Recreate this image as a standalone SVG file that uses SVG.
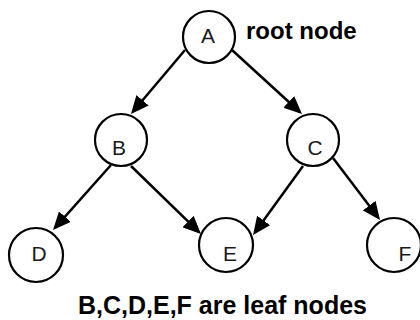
<svg xmlns="http://www.w3.org/2000/svg" width="420" height="320" viewBox="0 0 420 320">
<style>
.node circle{fill:#fff;stroke:#000;stroke-width:2.2}
.node text{font-family:"Liberation Sans",Arial,sans-serif;font-size:21px;fill:#1a1a1a;text-anchor:middle}
.edge{stroke:#000;stroke-width:2.5;fill:none;marker-end:url(#arr)}
.lbl{font-family:"Liberation Sans",Arial,sans-serif;font-weight:bold;fill:#000}
</style>
<defs>
<marker id="arr" markerUnits="userSpaceOnUse" markerWidth="18" markerHeight="16" refX="15" refY="8" orient="auto">
<path d="M0,0 L18,8 L0,16 z" fill="#000"/>
</marker>
</defs>
<rect width="420" height="320" fill="#fff"/>
<g id="connectors">
<line class="edge" x1="185" y1="50" x2="132.9" y2="111.7"/>
<line class="edge" x1="232" y1="50" x2="299.8" y2="112"/>
<line class="edge" x1="111" y1="165" x2="55" y2="227.8"/>
<line class="edge" x1="131" y1="166" x2="198.8" y2="231.9"/>
<line class="edge" x1="303" y1="166" x2="254.8" y2="232.6"/>
<line class="edge" x1="333" y1="158" x2="378.2" y2="217.6"/>
</g>
<g id="A" class="node"><circle cx="209" cy="37" r="26"/><text x="208" y="43">A</text></g>
<g id="B" class="node"><circle cx="121" cy="140" r="26"/><text x="119" y="155">B</text></g>
<g id="C" class="node"><circle cx="313" cy="140" r="26"/><text x="315" y="155">C</text></g>
<g id="D" class="node"><circle cx="36" cy="255" r="27"/><text x="39" y="261">D</text></g>
<g id="E" class="node"><circle cx="226" cy="245" r="27"/><text x="230" y="261">E</text></g>
<g id="F" class="node"><circle cx="394" cy="245" r="27"/><text x="405" y="261">F</text></g>
<text class="lbl" x="246" y="39" font-size="24">root node</text>
<text class="lbl" x="78" y="314" font-size="25">B,C,D,E,F are leaf nodes</text>
</svg>
